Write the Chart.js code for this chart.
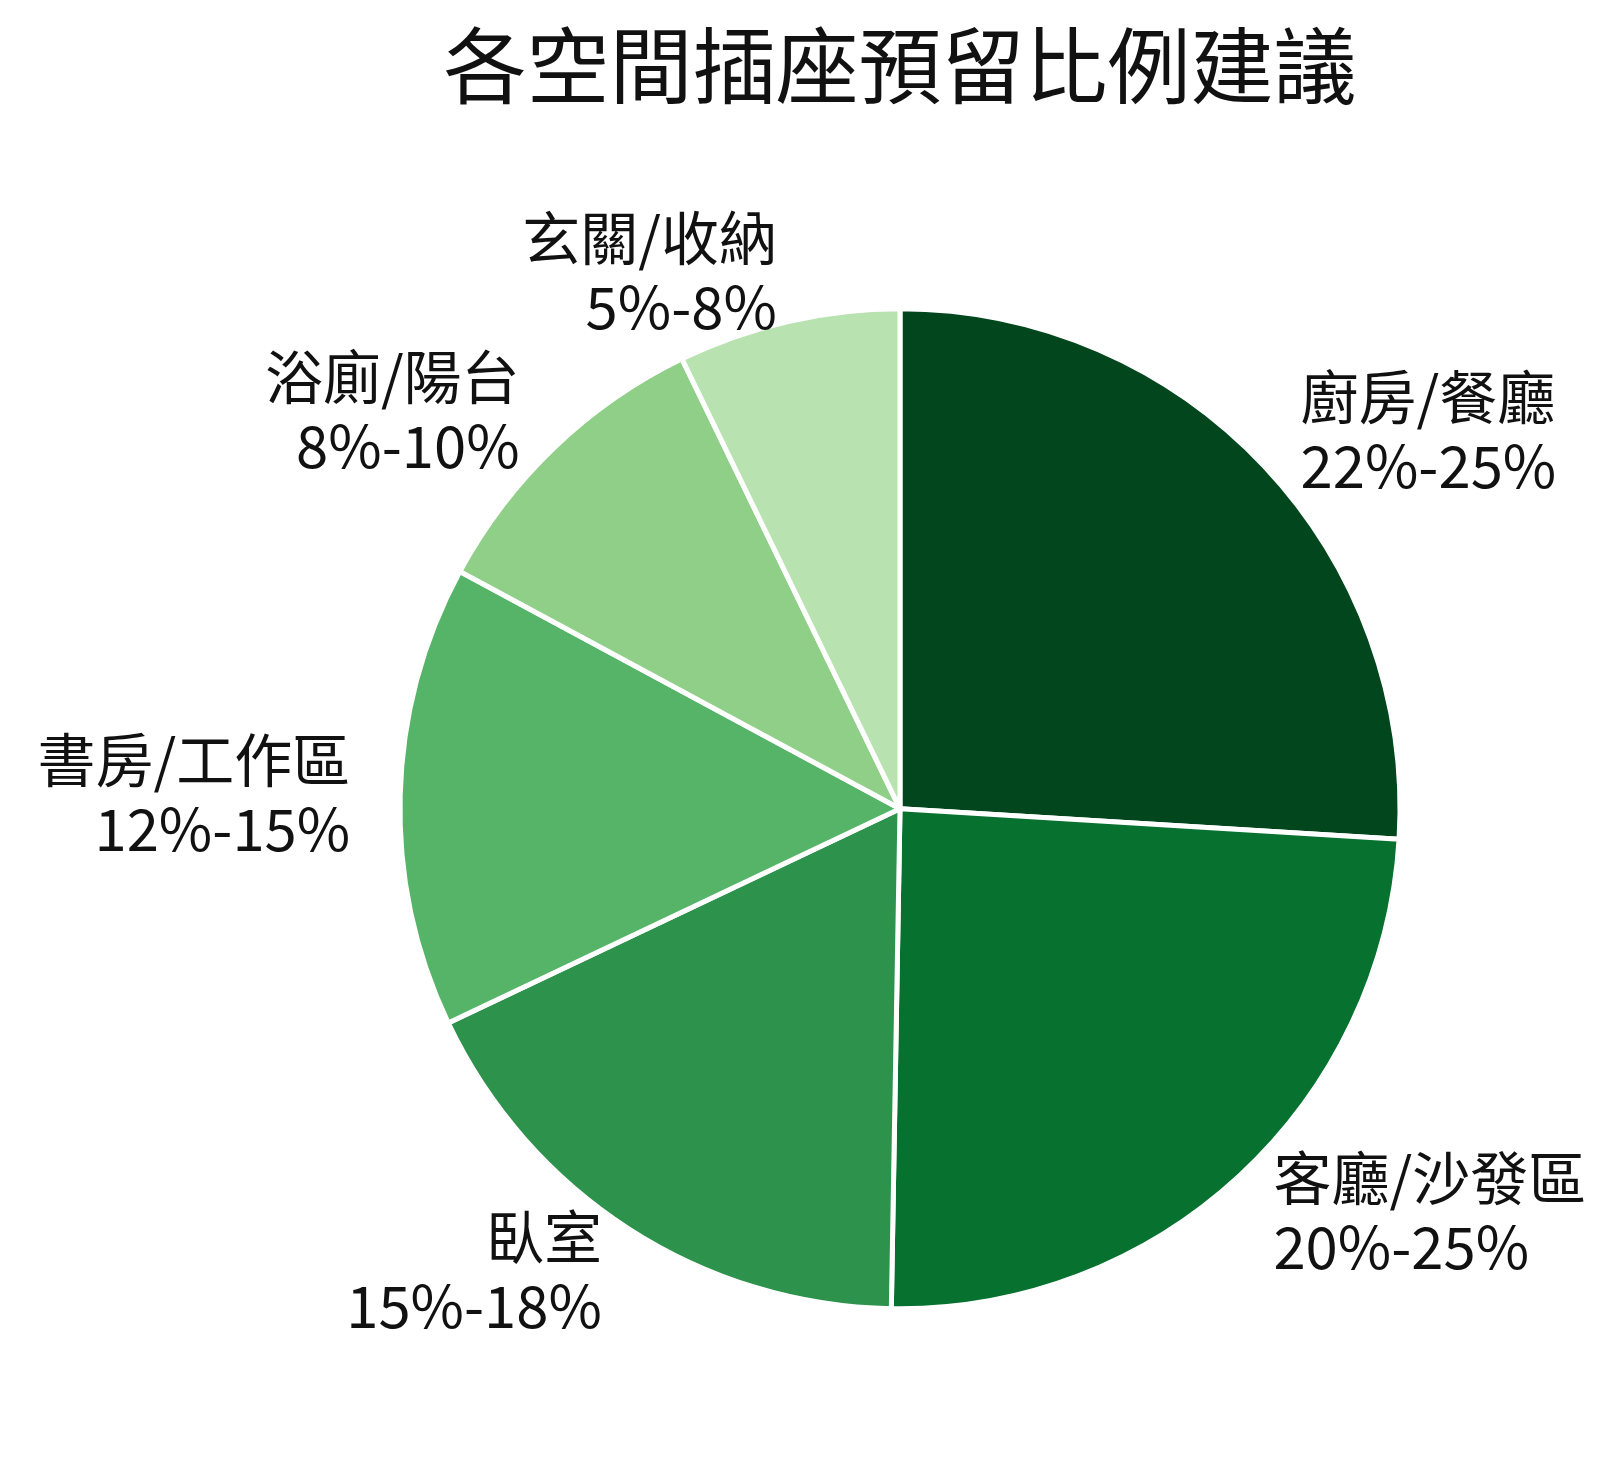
<!DOCTYPE html>
<html>
<head>
<meta charset="utf-8">
<script src="https://cdn.jsdelivr.net/npm/chart.js@4.4.1/dist/chart.umd.min.js"></script>
<style>
  html, body { margin: 0; padding: 0; background: #ffffff; }
  #wrap { width: 1618px; height: 1468px; }
</style>
</head>
<body>
<div id="wrap"><canvas id="pieChart" width="1618" height="1468"></canvas></div>
<script>
// Chart data
const categories = ["廚房/餐廳", "客廳/沙發區", "臥室", "書房/工作區", "浴廁/陽台", "玄關/收納"];
const ranges = ["22%-25%", "20%-25%", "15%-18%", "12%-15%", "8%-10%", "5%-8%"];
const values = [23.5, 22, 16, 13.5, 9, 6.5];
const colors = ["#02461e", "#077130", "#2c924c", "#56b468", "#8fcf88", "#b8e3b1"];

const FONT = "'Noto Sans CJK TC', 'Noto Sans CJK SC', sans-serif";

// Draws the two line label outside each slice
const outsideLabels = {
    id: "outsideLabels",
    afterDatasetsDraw(chart) {
        const ctx = chart.ctx;
        const meta = chart.getDatasetMeta(0);
        ctx.save();
        ctx.font = "58px " + FONT;
        ctx.fillStyle = "#111111";
        ctx.textBaseline = "middle";
        const lineH = 69;
        meta.data.forEach((arc, i) => {
            const p = arc.getProps(["x", "y", "startAngle", "endAngle", "outerRadius"], true);
            const mid = (p.startAngle + p.endAngle) / 2;
            const r = p.outerRadius * 1.1;
            const x = p.x + Math.cos(mid) * r;
            const y = p.y + Math.sin(mid) * r;
            ctx.textAlign = Math.cos(mid) >= 0 ? "left" : "right";
            ctx.fillText(categories[i], x, y - lineH / 2);
            ctx.fillText(ranges[i], x, y + lineH / 2);
        });
        ctx.restore();
    }
};

new Chart(document.getElementById("pieChart"), {
    type: "pie",
    data: {
        labels: categories,
        datasets: [{
            data: values,
            backgroundColor: colors,
            borderColor: "#ffffff",
            borderWidth: 5,
        }],
    },
    options: {
        responsive: false,
        animation: false,
        events: [],
        radius: 500,
        layout: {
            padding: { left: 182, right: 0, top: 6, bottom: 6 }
        },
        plugins: {
            legend: { display: false },
            tooltip: { enabled: false },
            title: {
                display: true,
                text: "各空間插座預留比例建議",
                color: "#111111",
                font: { family: FONT, size: 83, weight: "normal", lineHeight: 1.2 },
                padding: { top: 10, bottom: 40 }
            }
        }
    },
    plugins: [outsideLabels]
});
</script>
</body>
</html>
